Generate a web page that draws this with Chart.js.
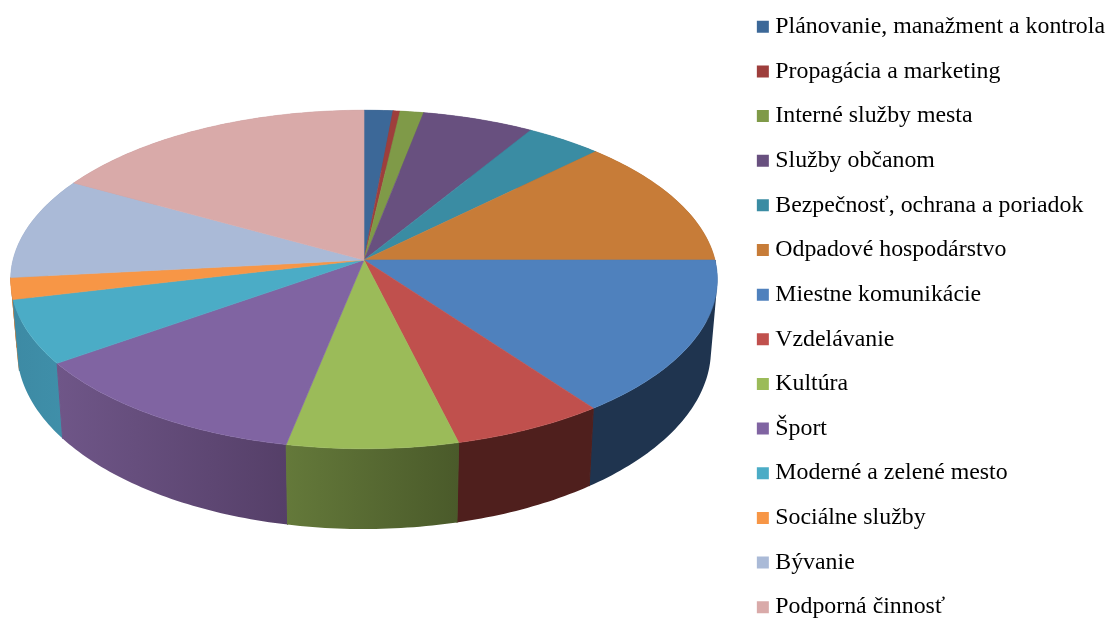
<!DOCTYPE html>
<html lang="sk">
<head>
<meta charset="utf-8">
<title>Rozpočet</title>
<script src="https://cdn.jsdelivr.net/npm/chart.js@4"></script>
<style>
html, body { margin: 0; padding: 0; background: #fff; overflow: hidden; width: 1109px; height: 619px; }
canvas { position: absolute; left: 0; top: -6px; }
</style>
</head>
<body>
<canvas id="pieChart" width="1115" height="680"></canvas>
<script>
const categories = ["Plánovanie, manažment a kontrola", "Propagácia a marketing", "Interné služby mesta",
    "Služby občanom", "Bezpečnosť, ochrana a poriadok", "Odpadové hospodárstvo", "Miestne komunikácie",
    "Vzdelávanie", "Kultúra", "Šport", "Moderné a zelené mesto", "Sociálne služby", "Bývanie", "Podporná činnosť"];
const shares = [1.47, 0.36, 1.2, 5.7, 3.9, 12.37, 14.9, 6.25, 7.0, 12.05, 6.1, 2.05, 9.75, 16.9];
const topColors = ["#3c6898", "#9e3e3c", "#7f9a48", "#68507f", "#3a8ca3", "#c77c38", "#4f81bd",
    "#c0504d", "#9bbb59", "#8064a2", "#4bacc6", "#f79646", "#aabad7", "#d9aaa9"];
const wallLeft = ["#2a4a6c", "#6f2b2a", "#5a6e33", "#4a3960", "#2b6678", "#8e5827", "#1f344f",
    "#4f1f1d", "#64793a", "#6f5688", "#3d8aa4", "#d9843c", "#8a98b0", "#b08a8a"];
const wallRight = ["#2a4a6c", "#6f2b2a", "#5a6e33", "#4a3960", "#2b6678", "#8e5827", "#1f344f",
    "#4f1f1d", "#4a5a2a", "#553f68", "#3f8fa9", "#d9843c", "#8a98b0", "#b08a8a"];

// tilted pie: the arcs keep the angles chart.js worked out, only the drawing is projected
const tilt = {
    id: "tilt",
    beforeDatasetsDraw(chart, args, opts) {
        const ctx = chart.ctx;
        const arcs = chart.getDatasetMeta(0).data;

        const project = (t, cx, cy, sx, sy) => {
            const u = Math.cos(t), v = Math.sin(t);
            const w = 1 - opts.persp * v;
            return [cx + sx * opts.rx * u / w, cy + sy * opts.ry * v / w];
        };
        const rim = (arc, cx, cy, sx, sy) => {
            const pts = [];
            const steps = Math.max(2, Math.ceil((arc.endAngle - arc.startAngle) * 60));
            for (let i = 0; i <= steps; i++) {
                const t = arc.startAngle + (arc.endAngle - arc.startAngle) * i / steps;
                pts.push(project(t, cx, cy, sx, sy));
            }
            return pts;
        };
        const addPath = pts => {
            pts.forEach((p, i) => i ? ctx.lineTo(p[0], p[1]) : ctx.moveTo(p[0], p[1]));
            ctx.closePath();
        };
        const area = pts => pts.reduce((sum, p, i) => {
            const q = pts[(i + 1) % pts.length];
            return sum + p[0] * q[1] - q[0] * p[1];
        }, 0);

        // side walls, back ones first
        const order = arcs.map((arc, i) => i).sort((a, b) => {
            const low = arc => Math.max(Math.sin(arc.startAngle), Math.sin(arc.endAngle),
                arc.startAngle < Math.PI / 2 && arc.endAngle > Math.PI / 2 ? 1 : -1);
            return low(arcs[a]) - low(arcs[b]);
        });
        order.forEach(i => {
            const up = rim(arcs[i], opts.cx, opts.cy, 1, 1);
            const down = rim(arcs[i], opts.cx, opts.baseY, opts.baseX, opts.baseH);
            const xs = up.concat(down).map(p => p[0]);
            const grad = ctx.createLinearGradient(Math.min(...xs), 0, Math.max(...xs), 0);
            grad.addColorStop(0, wallLeft[i]);
            grad.addColorStop(1, wallRight[i]);
            // quads in one path, all wound the same way, so no seams and no holes at the widest point
            ctx.beginPath();
            for (let k = 0; k < up.length - 1; k++) {
                const quad = [up[k], up[k + 1], down[k + 1], down[k]];
                addPath(area(quad) < 0 ? quad.reverse() : quad);
            }
            ctx.fillStyle = grad;
            ctx.fill();
            // cover the hairline between neighbouring walls
            const last = up.length - 1;
            ctx.beginPath();
            ctx.moveTo(up[0][0], up[0][1]);
            ctx.lineTo(down[0][0], down[0][1]);
            ctx.moveTo(up[last][0], up[last][1]);
            ctx.lineTo(down[last][0], down[last][1]);
            ctx.strokeStyle = grad;
            ctx.lineWidth = 1;
            ctx.stroke();
        });

        // top face
        arcs.forEach((arc, i) => {
            ctx.beginPath();
            addPath([[opts.cx, opts.cy]].concat(rim(arc, opts.cx, opts.cy, 1, 1)));
            ctx.fillStyle = topColors[i];
            ctx.strokeStyle = topColors[i];
            ctx.lineWidth = 0.6;
            ctx.fill();
            ctx.stroke();
        });
        return false;
    }
};

new Chart(document.getElementById("pieChart").getContext("2d"), {
    type: "pie",
    data: {
        labels: categories,
        datasets: [{ data: shares, backgroundColor: topColors, borderWidth: 0 }]
    },
    options: {
        responsive: false,
        animation: false,
        plugins: {
            tooltip: { enabled: false },
            tilt: { cx: 364, cy: 266, rx: 351, ry: 167, persp: 0.115, baseY: 335, baseX: 0.982, baseH: 1.06 },
            legend: {
                position: "right",
                align: "start",
                labels: {
                    usePointStyle: true,
                    pointStyle: "rect",
                    boxWidth: 1,
                    boxHeight: 12,
                    padding: 20.8,
                    color: "#000",
                    font: { family: "'Liberation Serif'", size: 23.85 }
                }
            }
        }
    },
    plugins: [tilt]
});
</script>
</body>
</html>
